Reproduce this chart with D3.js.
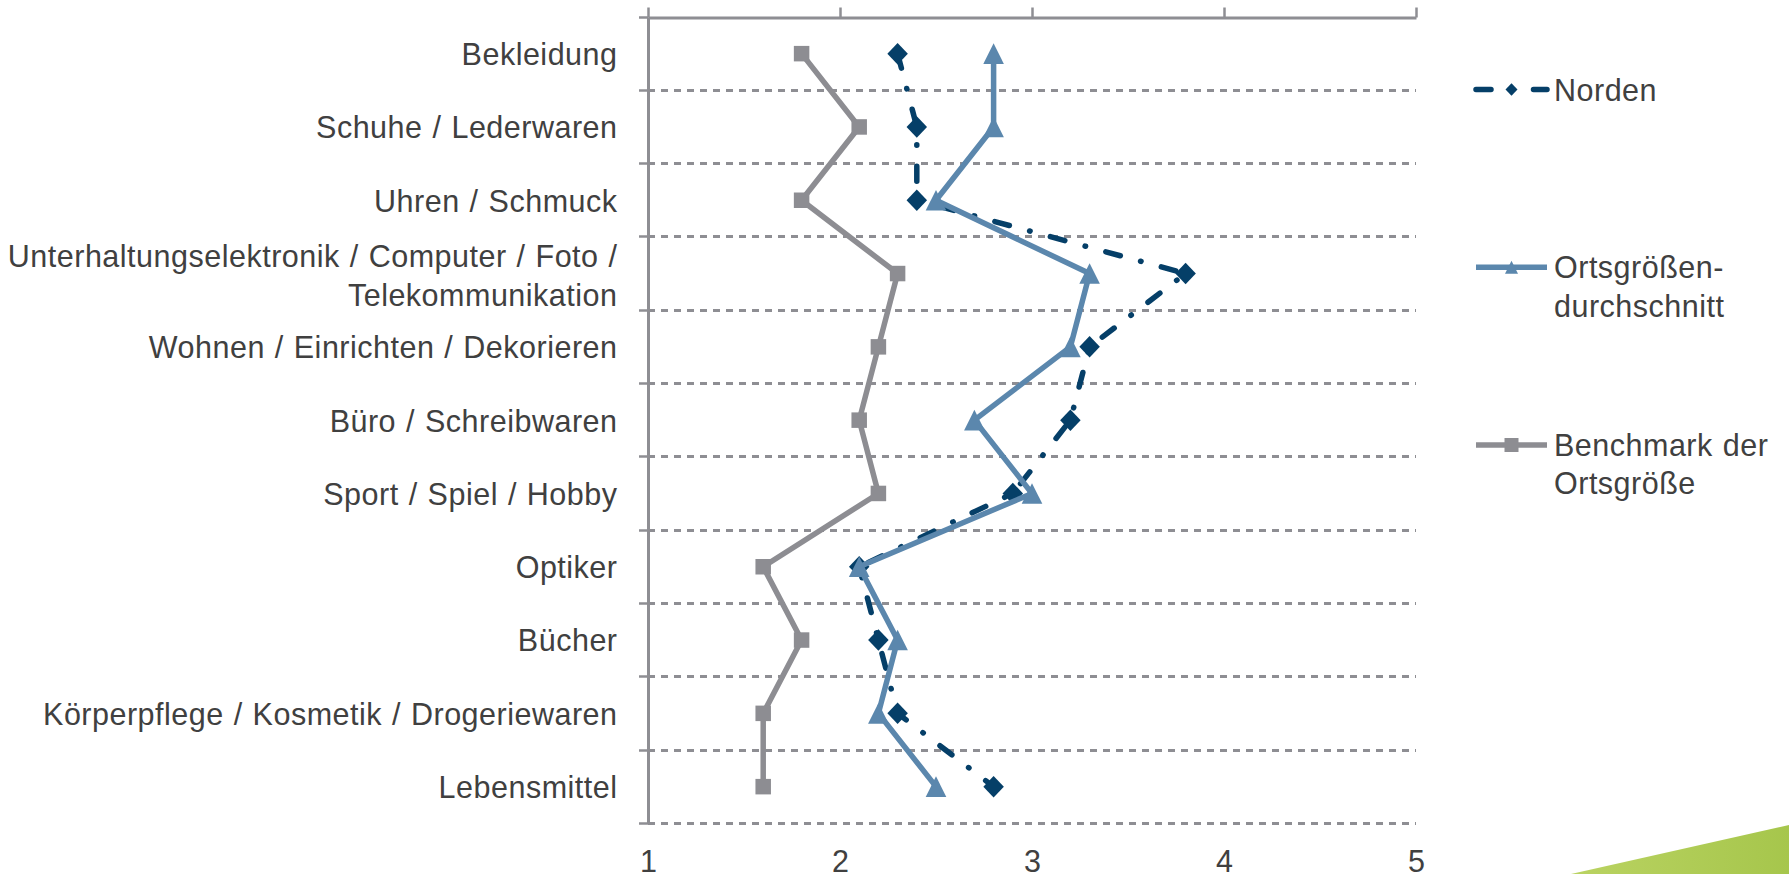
<!DOCTYPE html>
<html>
<head>
<meta charset="utf-8">
<script src="https://cdn.jsdelivr.net/npm/d3@7"></script>
<style>
  html, body { margin: 0; padding: 0; background: #ffffff; }
  svg { display: block; }
</style>
</head>
<body>
<svg id="chart" width="1789" height="874"></svg>
<script>
// ---------------- DATA ----------------
const categories = [
  "Bekleidung",
  "Schuhe / Lederwaren",
  "Uhren / Schmuck",
  "Unterhaltungselektronik / Computer / Foto /\nTelekommunikation",
  "Wohnen / Einrichten / Dekorieren",
  "Büro / Schreibwaren",
  "Sport / Spiel / Hobby",
  "Optiker",
  "Bücher",
  "Körperpflege / Kosmetik / Drogeriewaren",
  "Lebensmittel"
];
const norden =                 [2.3, 2.4, 2.4, 3.8, 3.3, 3.2, 2.9, 2.1, 2.2, 2.3, 2.8];
const ortsgroessenSchnitt =    [2.8, 2.8, 2.5, 3.3, 3.2, 2.7, 3.0, 2.1, 2.3, 2.2, 2.5];
const benchmarkOrtsgroesse =   [1.8, 2.1, 1.8, 2.3, 2.2, 2.1, 2.2, 1.6, 1.8, 1.6, 1.6];
const xTicks = [1, 2, 3, 4, 5];
const xDomain = [1, 5];
const legendLabels = ["Norden", "Ortsgrößen-\ndurchschnitt", "Benchmark der\nOrtsgröße"];

// ---------------- SETUP ----------------
const svg = d3.select("#chart");
const FONT = "'Liberation Sans', Arial, Helvetica, sans-serif";
const TEXT = "#404040";
const GRID = "#8e8e93";
const C_NORD = "#053f68";
const C_ORTS = "#5b87ad";
const C_BENCH = "#8d8d92";
const FS = 30.5;
const LS = "0.5px", WS = "1px";

const pLeft = 648, pRight = 1416, pTop = 17, pBottom = 823.3;
const x = d3.scaleLinear().domain(xDomain).range([pLeft, pRight]);
const y = d3.scaleBand().domain(categories).range([pTop, pBottom]).padding(0);
const yc = c => y(c) + y.bandwidth() / 2;
const crisp = v => Math.round(v - 0.5) + 0.5;

// custom symbol shapes (drawn through d3.symbol)
const symDiamond = { draw(ctx, size) { const w = Math.sqrt(size) / 2, h = w * 1.05;
  ctx.moveTo(0, -h); ctx.lineTo(w, 0); ctx.lineTo(0, h); ctx.lineTo(-w, 0); ctx.closePath(); } };
const symTriangle = { draw(ctx, size) { const s = Math.sqrt(size) / 2;
  ctx.moveTo(0, -s); ctx.lineTo(s, s); ctx.lineTo(-s, s); ctx.closePath(); } };
const symSquare = { draw(ctx, size) { const s = Math.sqrt(size) / 2;
  ctx.rect(-s, -s, 2 * s, 2 * s); } };

// ---------------- DECORATION (green wedge) ----------------
const defs = svg.append("defs");
const grad = defs.append("linearGradient").attr("id", "g1").attr("x1", "0").attr("x2", "1").attr("y1", "0").attr("y2", "0");
grad.append("stop").attr("offset", "0").attr("stop-color", "#bad362");
grad.append("stop").attr("offset", "1").attr("stop-color", "#a6c64c");
svg.append("path").attr("d", "M1571,874 L1789,825 L1789,874 Z").attr("fill", "url(#g1)");

// ---------------- GRIDLINES ----------------
const boundaries = categories.slice(1).map(c => y(c)).concat([pBottom]);
svg.append("g").selectAll("line").data(boundaries).join("line")
  .attr("x1", pLeft).attr("x2", pRight).attr("y1", d => crisp(d)).attr("y2", d => crisp(d))
  .attr("stroke", GRID).attr("stroke-width", 3).attr("stroke-dasharray", "7,6");

// left axis tick marks at band boundaries
svg.append("g").selectAll("line").data([pTop].concat(boundaries)).join("line")
  .attr("x1", pLeft - 9).attr("x2", pLeft).attr("y1", d => crisp(d)).attr("y2", d => crisp(d))
  .attr("stroke", GRID).attr("stroke-width", 2.5);

// ---------------- AXES ----------------
// top value axis (line + ticks)
const gTop = svg.append("g").attr("transform", `translate(0,${crisp(pTop)})`)
  .call(d3.axisTop(x).tickValues(xTicks).tickSize(10).tickSizeOuter(0).tickFormat(""));
gTop.select(".domain").attr("stroke", GRID).attr("stroke-width", 3);
gTop.selectAll(".tick line").attr("stroke", GRID).attr("stroke-width", 2.5);

// bottom value labels
const gBot = svg.append("g").attr("transform", "translate(0,850)")
  .call(d3.axisBottom(x).tickValues(xTicks).tickSize(0).tickPadding(0).tickFormat(d3.format("d")));
gBot.select(".domain").remove();
gBot.attr("font-family", FONT).attr("font-size", FS);
gBot.selectAll("text").attr("fill", TEXT);

// left category axis
const gLeft = svg.append("g").attr("transform", `translate(${pLeft},0)`)
  .call(d3.axisLeft(y).tickSize(0).tickSizeOuter(0).tickPadding(30));
gLeft.select(".domain").attr("stroke", GRID).attr("stroke-width", 3);
gLeft.attr("font-family", FONT).attr("font-size", FS);
gLeft.selectAll(".tick text").each(function(d) {
  const t = d3.select(this);
  const lines = d.split("\n");
  t.text(null).attr("fill", TEXT).attr("dy", null)
    .style("letter-spacing", LS).style("word-spacing", WS);
  lines.forEach((ln, i) => {
    let dy;
    if (lines.length === 1) dy = 11.4;
    else dy = i === 0 ? -6.6 : 39;
    t.append("tspan").attr("x", -30.5).attr("dy", dy).text(ln);
  });
});

// ---------------- SERIES ----------------
const line = d3.line().x(d => x(d.v)).y(d => yc(d.c));
const toPts = arr => arr.map((v, i) => ({ c: categories[i], v }));

const series = [
  { data: norden, color: C_NORD, dash: "15,21,0.5,21", sym: symDiamond, size: 20.5 * 20.5, lsize: 12 * 12 },
  { data: ortsgroessenSchnitt, color: C_ORTS, dash: null, sym: symTriangle, size: 20.6 * 20.6, lsize: 13 * 13 },
  { data: benchmarkOrtsgroesse, color: C_BENCH, dash: null, sym: symSquare, size: 15.5 * 15.5, lsize: 14 * 14 }
];

series.forEach(s => {
  const g = svg.append("g");
  g.append("path").datum(toPts(s.data)).attr("d", line)
    .attr("fill", "none").attr("stroke", s.color).attr("stroke-width", 5.5)
    .attr("stroke-linejoin", "round")
    .attr("stroke-linecap", s.dash ? "round" : "butt")
    .attr("stroke-dasharray", s.dash);
  g.selectAll("path.m").data(toPts(s.data)).join("path").attr("class", "m")
    .attr("transform", d => `translate(${x(d.v)},${yc(d.c)})`)
    .attr("d", d3.symbol().type(s.sym).size(s.size))
    .attr("fill", s.color);
});

// ---------------- LEGEND ----------------
const legendY = [89.5, 267.3, 445];
const lg = svg.append("g");
series.forEach((s, i) => {
  const ly = legendY[i];
  lg.append("line").attr("x1", 1476).attr("x2", 1547).attr("y1", ly).attr("y2", ly)
    .attr("stroke", s.color).attr("stroke-width", 5.5)
    .attr("stroke-linecap", s.dash ? "round" : "butt")
    .attr("stroke-dasharray", s.dash);
  lg.append("path").attr("transform", `translate(1511.5,${ly})`)
    .attr("d", d3.symbol().type(s.sym).size(s.lsize)).attr("fill", s.color);
  const t = lg.append("text").attr("font-family", FONT).attr("font-size", FS).attr("fill", TEXT)
    .style("letter-spacing", LS).style("word-spacing", WS);
  legendLabels[i].split("\n").forEach((ln, j) => {
    t.append("tspan").attr("x", 1554).attr("y", ly + 11 + j * 38.3).text(ln);
  });
});
</script>
</body>
</html>
